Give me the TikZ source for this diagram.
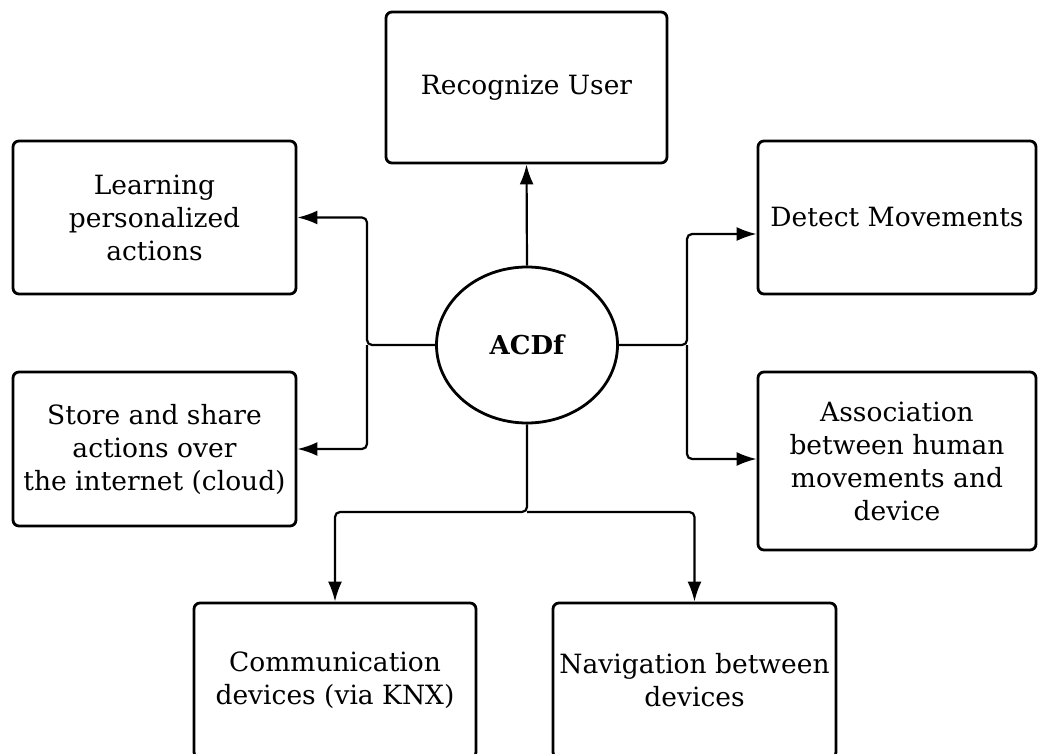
\documentclass[tikz,border=0pt]{standalone}
\usepackage{fontspec}
\setmainfont{DejaVu Serif}
\usetikzlibrary{shapes.geometric,arrows.meta}

\begin{document}
\begin{tikzpicture}[x=1pt,y=-1pt,
>={Latex[length=20pt,width=14pt]},
line width=2.2pt,
taskbox/.style={rectangle, rounded corners=6pt, line width=2.8pt, draw=black, align=center, text centered, font=\fontsize{26.5}{33}\selectfont},
corebox/.style={ellipse, line width=2.8pt, draw=black, minimum width=181pt, minimum height=156pt, font=\fontsize{26}{30}\selectfont\bfseries},
]
  \useasboundingbox (0,0) rectangle (1038,754);
  \node (acdf) [corebox] at (527,345) {ACDf};
  \node (recognize) [taskbox, minimum width=281pt, minimum height=151pt] at (526.5,87.5) {Recognize User};
  \node (learning) [taskbox, minimum width=283pt, minimum height=153pt] at (154.5,217.5) {Learning\\personalized\\actions};
  \node (store) [taskbox, minimum width=283pt, minimum height=154pt] at (154.5,449) {Store and share\\actions over\\the internet (cloud)};
  \node (detect) [taskbox, minimum width=278pt, minimum height=153pt] at (897,217.5) {Detect Movements};
  \node (assoc) [taskbox, minimum width=278pt, minimum height=178pt] at (897,461) {Association\\between human\\movements and\\device};
  \node (comm) [taskbox, minimum width=282pt, minimum height=155pt] at (335,680.5) {Communication\\devices (via KNX)};
  \node (navig) [taskbox, minimum width=283pt, minimum height=155pt] at (694.5,680.5) {Navigation between\\devices};

  \coordinate (leftbus) at (367,345);
  \coordinate (rightbus) at (687,345);
  \coordinate (downbus) at (527,512);

  \draw[->] (acdf.north) -- (recognize.south);
  \draw[->, rounded corners=5pt] (acdf.west) -- (leftbus) |- (learning.east);
  \draw[->, rounded corners=5pt] (leftbus) |- (store.east);
  \draw[->, rounded corners=5pt] (acdf.east) -- (rightbus) |- ([yshift=-16.5pt]detect.west);
  \draw[->, rounded corners=5pt] (rightbus) |- ([yshift=2pt]assoc.west);
  \draw[->, rounded corners=5pt] (acdf.south) -- (downbus) -| (comm.north);
  \draw[->, rounded corners=5pt] (downbus) -| (navig.north);
\end{tikzpicture}
\end{document}
